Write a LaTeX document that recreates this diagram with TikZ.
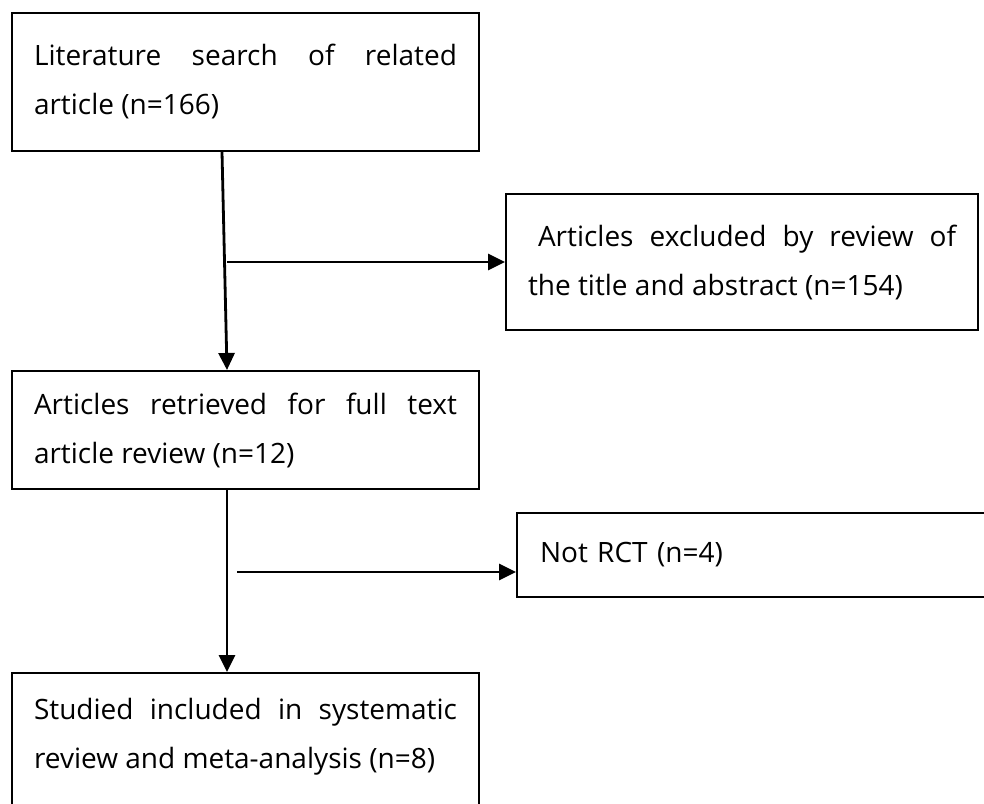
\documentclass[tikz,border=0pt]{standalone}
\usepackage{fontspec}
\setmainfont{Open Sans}
\usetikzlibrary{arrows.meta,calc}
\begin{document}
\begin{tikzpicture}[x=1pt,y=-1pt,
  box/.style={draw=black, line width=2pt, rectangle, anchor=north west,
    inner xsep=22pt, inner ysep=0pt, text width=#1, align=justify,
    font=\fontsize{28}{49}\selectfont},
  arr/.style={draw=black, line width=2.8pt, -{Triangle[length=17pt,width=16pt]}}]
\useasboundingbox[fill=white] (0,0) rectangle (984,803);

\node[box=423pt, minimum height=138pt] (b1) at (11,12)
  {Literature search of related\linebreak article (n=166)};
\node[box=428pt, minimum height=136pt] (b2) at (505,193)
  {\hspace*{10pt}Articles excluded by review of\linebreak the title and abstract (n=154)};
\node[box=423pt, minimum height=118pt] (b3) at (11,370)
  {Articles retrieved for full text\linebreak article review (n=12)};
\node[box=434pt, inner xsep=23pt, align=left, minimum height=84pt] (b4) at (516,512)
  {Not RCT (n=4)};
\node[box=423pt, inner ysep=16pt] (b5) at (11,672)
  {\rule{0pt}{30pt}Studied included in systematic\linebreak review and meta-analysis (n=8)\rule[-60pt]{0pt}{0pt}};

\draw[arr] ($(b1.south west)+(211,0)$) -- ($(b3.north west)+(216,0)$);
\coordinate (j1) at (227,262);
\draw[arr] (j1) -- (j1 -| b2.west);
\draw[arr] ($(b3.south west)+(216,0)$) -- ($(b5.north west)+(216,0)$);
\coordinate (j2) at (237,572);
\draw[arr] (j2) -- (j2 -| b4.west);
\end{tikzpicture}
\end{document}
